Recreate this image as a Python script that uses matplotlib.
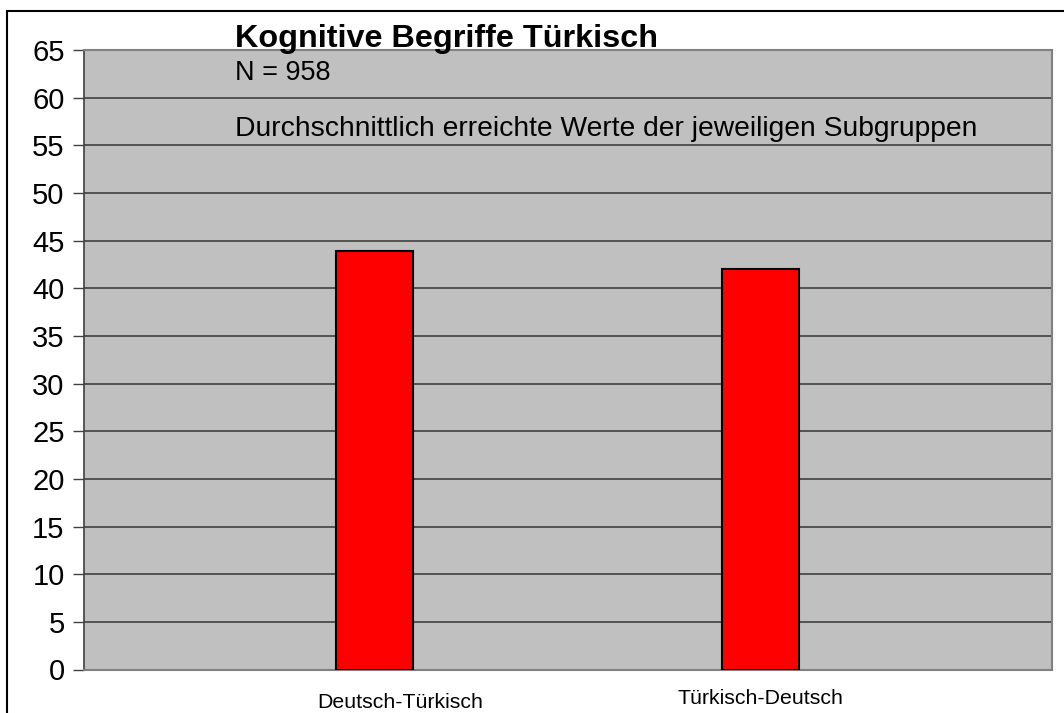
import matplotlib.pyplot as plt
from matplotlib.patches import Rectangle
from matplotlib.transforms import ScaledTranslation

plt.rcParams["font.family"] = ["Liberation Sans", "DejaVu Sans"]

categories = ["Deutsch-Türkisch", "Türkisch-Deutsch"]
values = [43.9, 42.05]
yticks = list(range(0, 66, 5))

W, H = 1064, 713
fig = plt.figure(figsize=(W / 100, H / 100), dpi=100)
ax = fig.add_axes([84 / W, 1 - 669.5 / H, (1052 - 84) / W, (669.5 - 50) / H])

ax.set_facecolor("#c0c0c0")
x = [0, 1]
ax.bar(x, values, width=0.2, color="#ff0000", edgecolor="black", linewidth=1.5, zorder=3)

ax.set_ylim(0, 65)
ax.set_xlim(-0.7526, 1.755)
ax.set_yticks(yticks)
ax.set_yticklabels([str(t) for t in yticks], fontsize=21)
ax.tick_params(axis="y", length=8, width=1, color="#404040", pad=6)
ax.set_xticks(x)
ax.set_xticklabels(categories, fontsize=15.3)
ax.tick_params(axis="x", length=0, pad=14)

# the first category label sits a bit right of its bar in the original
labels = ax.get_xticklabels()
labels[0].set_transform(labels[0].get_transform()
                        + ScaledTranslation(0.255, -0.04, fig.dpi_scale_trans))

ax.grid(axis="y", color="#404040", linewidth=1.2, zorder=1)
for side in ["top", "right", "bottom"]:
    ax.spines[side].set_color("#808080")
    ax.spines[side].set_linewidth(1.5)
ax.spines["left"].set_color("#404040")
ax.spines["left"].set_linewidth(1.2)

fig.text(235 / W, 1 - 47 / H, "Kognitive Begriffe Türkisch", fontsize=23.3,
         fontweight="bold", va="baseline", ha="left")
fig.text(235 / W, 1 - 80 / H, "N = 958", fontsize=19.5, va="baseline", ha="left")
fig.text(235 / W, 1 - 135.5 / H, "Durchschnittlich erreichte Werte der jeweiligen Subgruppen",
         fontsize=20.3, va="baseline", ha="left")

fig.patches.append(Rectangle((7 / W, -0.05), 1.1, 1 - 11 / H + 0.05,
                             transform=fig.transFigure, fill=False,
                             edgecolor="black", linewidth=1.5))

fig.savefig("out.png", dpi=100, facecolor="white")
